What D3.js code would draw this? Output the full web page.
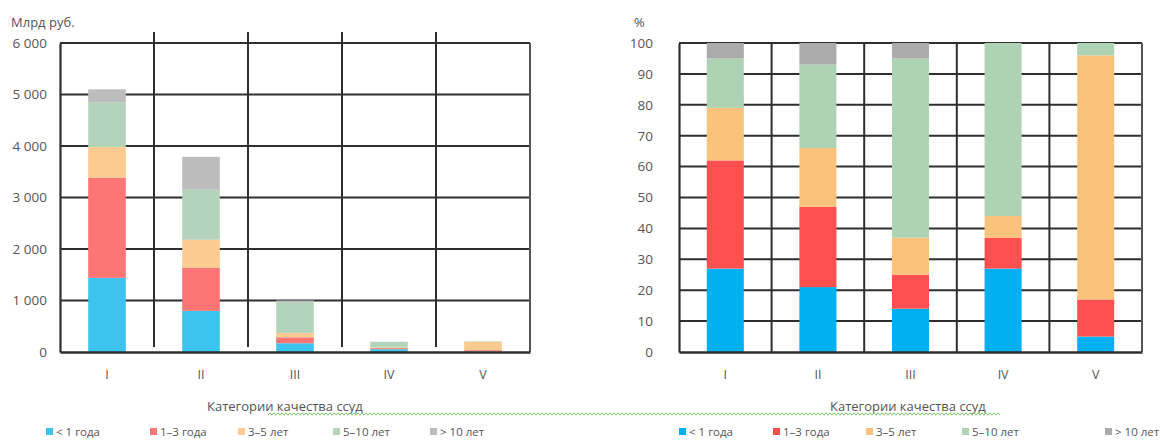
<!DOCTYPE html>
<html><head><meta charset="utf-8">
<script src="https://cdn.jsdelivr.net/npm/d3@7"></script>
<style>
html,body{margin:0;padding:0;background:#fff;}
svg{display:block;font-family:"Open Sans","Noto Sans",sans-serif;}
</style></head>
<body>
<svg id="c" width="1168" height="440"></svg>
<script>
// ---------- DATA ----------
const categories = ["I", "II", "III", "IV", "V"];
const seriesNames = ["< 1 года", "1–3 года", "3–5 лет", "5–10 лет", "> 10 лет"];

// left chart, млрд руб.
const absLt1   = [1440, 800, 170, 55, 8];
const abs1to3  = [1940, 835, 115, 20, 27];
const abs3to5  = [600, 545, 85, 15, 166];
const abs5to10 = [870, 970, 600, 110, 9];
const absGt10  = [250, 640, 30, 0, 0];

// right chart, %
const pctLt1   = [27, 21, 14, 27, 5];
const pct1to3  = [35, 26, 11, 10, 12];
const pct3to5  = [17, 19, 12, 7, 79];
const pct5to10 = [16, 27, 58, 56, 4];
const pctGt10  = [5, 7, 5, 0, 0];

const leftTicks = [0, 1000, 2000, 3000, 4000, 5000, 6000];
const leftTickLabels = ["0", "1 000", "2 000", "3 000", "4 000", "5 000", "6 000"];
const rightTicks = [0, 10, 20, 30, 40, 50, 60, 70, 80, 90, 100];
const rightTickLabels = ["0", "10", "20", "30", "40", "50", "60", "70", "80", "90", "100"];

const leftUnit = "Млрд руб.";
const rightUnit = "%";
const xTitle = "Категории качества ссуд";

// ---------- STYLE ----------
const leftColors  = ["#3cc3ee", "#ff7474", "#fdcb90", "#b3d3bb", "#bcbcbc"];
const rightColors = ["#00b0f0", "#ff4f4f", "#fbc27c", "#aed2b4", "#ababab"];
const gridColor = "#2e2e2e";
const textColor = "#555";

const svg = d3.select("#c");

function buildRows(arrs) {
  return categories.map((c, i) => {
    const r = {cat: c};
    seriesNames.forEach((s, k) => r[s] = arrs[k][i]);
    return r;
  });
}

function drawChart(opts) {
  const {x0, x1, yTop, yBot, maxV, ticks, tickLabels, rows, colors,
         tickPad, unit, unitX, vExtendTop, vShortBottom} = opts;
  const g = svg.append("g");
  const x = d3.scaleBand().domain(categories).range([x0, x1]).padding(0);
  const y = d3.scaleLinear().domain([0, maxV]).range([yBot, yTop]);

  // horizontal gridlines
  g.selectAll("line.h").data(ticks.filter(t => t > 0)).join("line")
    .attr("x1", x0).attr("x2", x1)
    .attr("y1", d => y(d)).attr("y2", d => y(d))
    .attr("stroke", gridColor).attr("stroke-width", 2);

  // vertical gridlines at category boundaries
  const bounds = categories.slice(1).map(c => x(c));
  g.selectAll("line.v").data(bounds).join("line")
    .attr("x1", d => d).attr("x2", d => d)
    .attr("y1", y(maxV) - vExtendTop).attr("y2", y(0) - vShortBottom)
    .attr("stroke", gridColor).attr("stroke-width", 2);

  // right border
  g.append("line").attr("x1", x1).attr("x2", x1)
    .attr("y1", y(maxV)).attr("y2", y(0))
    .attr("stroke", "#555").attr("stroke-width", 2);

  // stacked bars
  const stack = d3.stack().keys(seriesNames)(rows);
  const bw = x.bandwidth() * 0.4;
  g.selectAll("g.s").data(stack).join("g")
    .attr("fill", (d, i) => colors[i])
    .selectAll("rect").data(d => d).join("rect")
    .attr("x", d => x(d.data.cat) + (x.bandwidth() - bw) / 2)
    .attr("width", bw)
    .attr("y", d => y(d[1]))
    .attr("height", d => Math.max(0, y(d[0]) - y(d[1])));

  // y axis
  const ya = g.append("g").attr("transform", `translate(${x0},0)`)
    .call(d3.axisLeft(y).tickValues(ticks).tickSize(0).tickPadding(tickPad)
      .tickFormat((d, i) => tickLabels[i]));
  ya.select(".domain").attr("stroke", gridColor).attr("stroke-width", 2.2);
  ya.selectAll("text").attr("fill", textColor).attr("font-size", 13.5)
    .attr("font-family", "'Open Sans',sans-serif");

  // x axis
  const xa = g.append("g").attr("transform", `translate(0,${yBot})`)
    .call(d3.axisBottom(x).tickSize(0).tickPadding(18));
  xa.select(".domain").attr("stroke", gridColor).attr("stroke-width", 2.4);
  xa.selectAll("text").attr("fill", textColor).attr("font-size", 12.5)
    .attr("font-family", "'Open Sans',sans-serif");

  // unit label
  g.append("text").attr("x", unitX).attr("y", yTop - 16)
    .attr("fill", textColor).attr("font-size", 13).text(unit);

  return {x, y};
}

drawChart({x0: 60, x1: 530, yTop: 43, yBot: 352, maxV: 6000,
  ticks: leftTicks, tickLabels: leftTickLabels,
  rows: buildRows([absLt1, abs1to3, abs3to5, abs5to10, absGt10]),
  colors: leftColors, tickPad: 13, unit: leftUnit, unitX: 11,
  vExtendTop: 11, vShortBottom: 5});

drawChart({x0: 679, x1: 1142, yTop: 43, yBot: 352, maxV: 100,
  ticks: rightTicks, tickLabels: rightTickLabels,
  rows: buildRows([pctLt1, pct1to3, pct3to5, pct5to10, pctGt10]),
  colors: rightColors, tickPad: 26, unit: rightUnit, unitX: 634,
  vExtendTop: 0, vShortBottom: 0});

// axis titles
svg.append("text").attr("x", 207).attr("y", 411).attr("fill", textColor)
  .attr("font-size", 13).text(xTitle);
svg.append("text").attr("x", 830).attr("y", 411).attr("fill", textColor)
  .attr("font-size", 13).text(xTitle);

// green spell-check squiggle
const sq = [];
for (let xx = 268, k = 0; xx <= 1000; xx += 2, k++) sq.push([xx, 414 + (k % 2 ? -1.2 : 1.2)]);
svg.append("path").attr("d", d3.line()(sq)).attr("fill", "none")
  .attr("stroke", "#7cc46a").attr("stroke-width", 1);

// legends
function legend(xs, colors) {
  const lg = svg.append("g");
  seriesNames.forEach((s, i) => {
    lg.append("rect").attr("x", xs[i]).attr("y", 428).attr("width", 7).attr("height", 7)
      .attr("fill", colors[i]);
    lg.append("text").attr("x", xs[i] + 10).attr("y", 435.5).attr("fill", textColor)
      .attr("font-size", 11.5).text(s);
  });
}
legend([46, 150, 238, 333, 430], leftColors);
legend([679, 773, 866, 962, 1105], rightColors);
</script>
</body></html>
